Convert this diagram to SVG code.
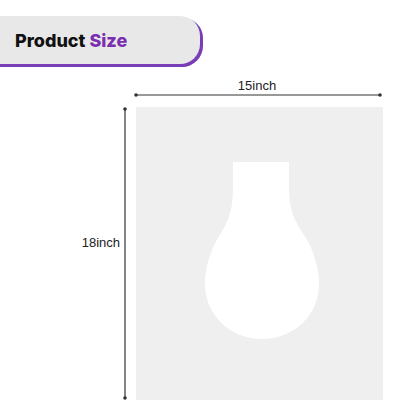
<svg xmlns="http://www.w3.org/2000/svg" width="416" height="416" viewBox="0 0 416 416">
<defs>
<style>
.dim{stroke:#333;stroke-width:1.2;fill:none}
.lbl{font-family:"Liberation Sans",Arial,sans-serif;font-size:13px;fill:#222}
</style>
<marker id="dot" viewBox="0 0 4 4" refX="2" refY="2" markerWidth="3" markerHeight="3"><circle cx="2" cy="2" r="2" fill="#333"/></marker>
</defs>
<rect width="416" height="416" fill="#fff"/>
<g id="banner">
<path d="M-10,18 H182 A20,20 0 0 1 203,38 V46 A21,21 0 0 1 182,67 H-10 Z" fill="#7a3db8"/>
<path d="M-10,16 H180 A20,20 0 0 1 200,36 V44 A20,20 0 0 1 180,64 H-10 Z" fill="#e8e8e8"/>
<text x="15" y="47" font-family="Inter,'Liberation Sans',sans-serif" font-weight="800" font-size="18"><tspan fill="#111">Product </tspan><tspan fill="#7a2fb0">Size</tspan></text>
</g>
<g id="sheet">
<rect x="136" y="107" width="247" height="293" fill="#efefef"/>
<path d="M233,162 H289 V188 C289,215 298,225 306,238 C314,252 319,268 319,284 C319,315 294,339 262,339 C230,339 205,315 205,284 C205,268 210,252 218,238 C226,225 233,215 233,188 Z" fill="#fff"/>
</g>
<g id="connectors">
<line class="dim" x1="136" y1="95" x2="380" y2="95" marker-start="url(#dot)" marker-end="url(#dot)"/>
<line class="dim" x1="125" y1="109" x2="125" y2="398" marker-start="url(#dot)" marker-end="url(#dot)"/>
</g>
<g id="width-label"><text class="lbl" x="257" y="90" text-anchor="middle">15inch</text></g>
<g id="height-label"><text class="lbl" x="120" y="247" text-anchor="end">18inch</text></g>
</svg>
